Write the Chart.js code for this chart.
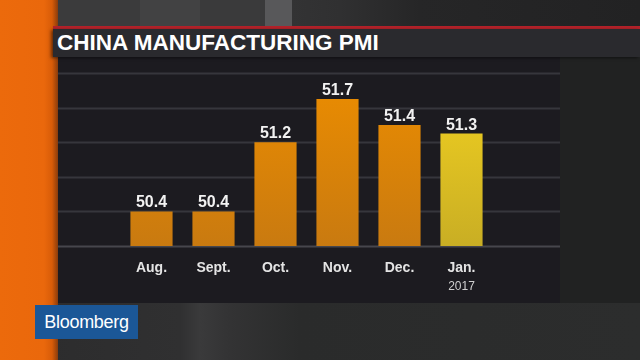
<!DOCTYPE html>
<html>
<head>
<meta charset="utf-8">
<script src="https://cdn.jsdelivr.net/npm/chart.js@4.4.1/dist/chart.umd.min.js"></script>
<style>
  html, body { margin: 0; padding: 0; }
  body { width: 640px; height: 360px; overflow: hidden; position: relative; background: #2a2a2b; font-family: 'Liberation Sans', Arial, sans-serif; }
  .bg-top { position: absolute; left: 0; top: 0; width: 640px; height: 29px;
    background: linear-gradient(90deg, #3b3b3c 0px, #3b3b3c 140px, #424243 140px, #424243 200px, #3a3a3b 200px, #3a3a3b 265px, #58585a 265px, #58585a 292px, #333334 292px, #303031 340px, #262627 420px, #222223 640px); }
  .bg-bottom { position: absolute; left: 0; top: 303px; width: 640px; height: 57px;
    background: linear-gradient(90deg, #2b2b2c 0px, #303031 180px, #3a3a3b 200px, #333334 230px, #2a2b2b 300px, #2c2d2d 640px); }
  .bg-right { position: absolute; left: 560px; top: 57px; width: 80px; height: 246px; background: #212222; }
  .strip { position: absolute; left: 0; top: 0; width: 58px; height: 360px;
    background: linear-gradient(90deg, #ec6a0c 0px, #ea680c 44px, #d85c08 52px, #8a3c0c 58px); }
  .redline { position: absolute; left: 53px; top: 26px; width: 587px; height: 3px; background: #b2222a; }
  .titleband { position: absolute; left: 53px; top: 29px; width: 587px; height: 28px; background: #2a2a2e; box-shadow: -2px 1px 3px rgba(0,0,0,0.5); }
  .title { position: absolute; left: 57px; top: 30px; color: #ffffff; font-weight: bold; font-size: 22.5px; white-space: nowrap; }
  .panel { position: absolute; left: 58px; top: 57px; width: 502px; height: 246px; background: #1c1b20; }
  .logo { position: absolute; left: 35px; top: 305px; width: 103px; height: 34px; background: #1b5797; color: #ffffff; font-size: 18px; line-height: 34px; text-align: center; letter-spacing: -0.3px; }
  canvas { position: absolute; left: 0; top: 0; }
</style>
</head>
<body>
<div class="bg-top"></div>
<div class="bg-bottom"></div>
<div class="bg-right"></div>
<div class="panel"></div>
<div class="strip"></div>
<div class="redline"></div>
<div class="titleband"></div>
<div class="title">CHINA MANUFACTURING PMI</div>
<div class="logo">Bloomberg</div>
<div style="position:absolute;left:0;top:0;width:640px;height:360px;">
  <canvas id="chart" width="640" height="360"></canvas>
</div>
<script>
const months = ['Aug.', 'Sept.', 'Oct.', 'Nov.', 'Dec.', 'Jan.'];
const subLabels = ['', '', '', '', '', '2017'];
const pmi = [50.4, 50.4, 51.2, 51.7, 51.4, 51.3];
const highlight = [false, false, false, false, false, true];

function barFill(ctx) {
  const chart = ctx.chart;
  const area = chart.chartArea;
  if (!area) return '#e08600';
  const g = chart.ctx.createLinearGradient(0, area.top, 0, area.bottom);
  if (highlight[ctx.dataIndex]) {
    g.addColorStop(0, '#f3d220');
    g.addColorStop(1, '#c9ae24');
  } else {
    g.addColorStop(0, '#ec8d00');
    g.addColorStop(1, '#c97a10');
  }
  return g;
}

const panelGrid = {
  id: 'panelGrid',
  beforeDatasetsDraw(chart) {
    const { ctx, scales: { y } } = chart;
    ctx.save();
    y.ticks.forEach((t, i) => {
      const py = Math.round(y.getPixelForValue(t.value)) + 0.5;
      ctx.strokeStyle = i === 0 ? '#46464c' : '#36363c';
      ctx.lineWidth = 2;
      ctx.beginPath();
      ctx.moveTo(58, py);
      ctx.lineTo(560, py);
      ctx.stroke();
    });
    ctx.restore();
  }
};

const barValues = {
  id: 'barValues',
  afterDatasetsDraw(chart) {
    const { ctx } = chart;
    const meta = chart.getDatasetMeta(0);
    ctx.save();
    ctx.font = 'bold 16px "Liberation Sans", Arial, sans-serif';
    ctx.fillStyle = '#f2f2f2';
    ctx.textAlign = 'center';
    ctx.textBaseline = 'alphabetic';
    meta.data.forEach((bar, i) => {
      ctx.fillText(pmi[i].toFixed(1), bar.x, bar.y - 4);
    });
    // second line under the month labels
    ctx.font = '12px "Liberation Sans", Arial, sans-serif';
    ctx.fillStyle = '#cfcfcf';
    const x = chart.scales.x;
    subLabels.forEach((s, i) => {
      if (s) ctx.fillText(s, x.getPixelForValue(i), 290);
    });
    ctx.restore();
  }
};

new Chart(document.getElementById('chart'), {
  type: 'bar',
  data: {
    labels: months,
    datasets: [{
      data: pmi,
      backgroundColor: barFill,
      borderWidth: 0,
      barPercentage: 0.68,
      categoryPercentage: 1
    }]
  },
  options: {
    responsive: false,
    animation: false,
    layout: { padding: { left: 120.5, right: 147.5, top: 73, bottom: 0 } },
    plugins: { legend: { display: false }, tooltip: { enabled: false } },
    scales: {
      y: {
        display: false,
        min: 50,
        max: 52,
        ticks: { stepSize: 0.4 }
      },
      x: {
        grid: { display: false, drawTicks: false },
        border: { display: false },
        ticks: {
          color: '#e4e4e4',
          padding: 14,
          font: { family: '"Liberation Sans", Arial, sans-serif', size: 14, weight: 'bold' }
        },
        afterFit(scale) { scale.height = 114; }
      }
    }
  },
  plugins: [panelGrid, barValues]
});
</script>
</body>
</html>
